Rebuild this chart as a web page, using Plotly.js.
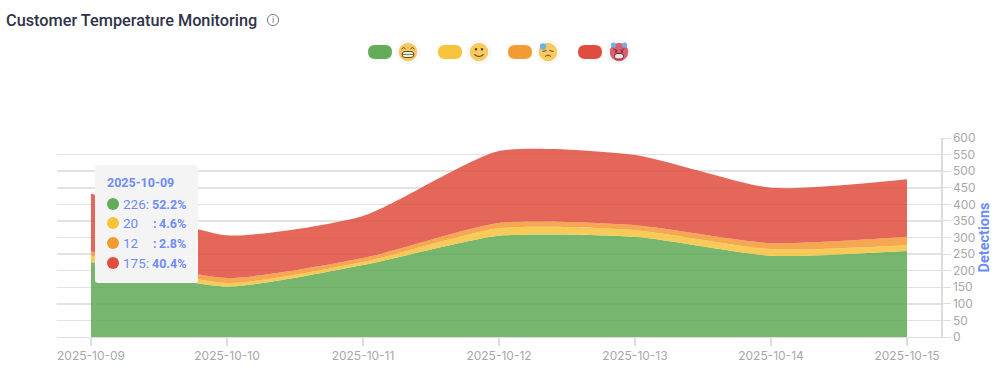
<!DOCTYPE html>
<html>
<head>
<meta charset="utf-8">
<script src="https://cdn.plot.ly/plotly-3.0.1.min.js"></script>
<style>html,body{margin:0;padding:0;background:#fff}#chart{width:1000px;height:379px}</style>
</head>
<body>
<div id="chart"></div>
<script>
const dates = ['2025-10-09','2025-10-10','2025-10-11','2025-10-12','2025-10-13','2025-10-14','2025-10-15'];
const green = [226,152,217,305,302,245,259];
const yellow = [20,11,9,23,20,20,18];
const orange = [12,15,12,16,15,18,25];
const red = [175,129,127,217,212,167,174];
const names = ['Very happy','Happy','Worried','Hot'];
const fills = ['rgba(92,168,82,0.84)','rgba(247,194,60,0.85)','rgba(243,152,50,0.85)','rgba(224,74,58,0.84)'];
const solid = ['#63ad5a','#f7c33c','#f39a33','#e04d3e'];
const tipCounts = ['226:','20','12','175:'];
const tipColons = ['',':',':',''];
const tipPercents = ['52.2%','4.6%','2.8%','40.4%'];
const L=57,T=138,W=884,H=199;
const px=x=>(x-L)/W, py=y=>(T+H-y)/H;
function rr(x0,y0,x1,y1,r){
  const X=px,Y=py;
  return `M${X(x0+r)},${Y(y0)} L${X(x1-r)},${Y(y0)} Q${X(x1)},${Y(y0)} ${X(x1)},${Y(y0+r)} L${X(x1)},${Y(y1-r)} Q${X(x1)},${Y(y1)} ${X(x1-r)},${Y(y1)} L${X(x0+r)},${Y(y1)} Q${X(x0)},${Y(y1)} ${X(x0)},${Y(y1-r)} L${X(x0)},${Y(y0+r)} Q${X(x0)},${Y(y0)} ${X(x0+r)},${Y(y0)} Z`;
}
const circ=(cx,cy,r,fill,line,lw)=>({type:'circle',xref:'paper',yref:'paper',x0:px(cx-r),x1:px(cx+r),y0:py(cy+r),y1:py(cy-r),fillcolor:fill,line:{color:line||fill,width:line?(lw||1):0},layer:'above'});
const pathS=(p,fill,lc,lw)=>({type:'path',xref:'paper',yref:'paper',path:p,fillcolor:fill||'rgba(0,0,0,0)',line:{color:lc||fill,width:lw===undefined?0:lw},layer:'above'});
const stroke=(pts,color,lw)=>{
  const p=pts.map(a=>a[0]+a.slice(1).map((v,i)=>i%2==0?px(v):py(v)).reduce((s,v,i)=>s+(i%2?','+v:(i?' ':'')+v),'')).join(' ');
  return pathS(p,null,color,lw);
};
const shapes=[], anns=[];
// tooltip
shapes.push(pathS(rr(95,165,198,283,3),'#f4f4f4'));
const rowY=[204,223,243,263];
solid.forEach((c,i)=>shapes.push(circ(113,rowY[i],6,c)));
const blue='#6f8cf6';
const txt=(x,y,t,size,color,anchor)=>({xref:'paper',yref:'paper',x:px(x),y:py(y),text:t,showarrow:false,xanchor:anchor||'left',yanchor:'middle',font:{family:'Roboto',size:size,color:color}});
anns.push(txt(105,182,'<b>2025-10-09</b>',12.5,blue));
tipCounts.forEach((r,i)=>{
  anns.push(txt(121,rowY[i],r,13.5,blue));
  if(tipColons[i]) anns.push(txt(150.5,rowY[i],'<b>'+tipColons[i]+'</b>',12.5,blue));
  anns.push(txt(188,rowY[i],'<b>'+tipPercents[i]+'</b>',12.5,blue,'right'));
});
// legend
const pillX=[368,438,508,578], faceX=[408,479,548,619];
const cy=52, dark='#5c4a26';
solid.forEach((c,i)=>{
  shapes.push(pathS(rr(pillX[i],45,pillX[i]+24,59,7),c));
  const cx=faceX[i];
  shapes.push(circ(cx,cy,11.3,'#ffffff','#ececec',0.8));
  shapes.push(circ(cx,cy,9.3,i===3?'#d9606e':'#f8c95e'));
  if(i===0){
    shapes.push(stroke([['M',cx-6.5,cy-3],['Q',cx-4.5,cy-6,cx-2.5,cy-3]],dark,1));
    shapes.push(stroke([['M',cx+2.5,cy-3],['Q',cx+4.5,cy-6,cx+6.5,cy-3]],dark,1));
    shapes.push(pathS(rr(cx-6,cy-0.5,cx+6,cy+5.5,3),'#f4ecdc',dark,1));
    shapes.push(stroke([['M',cx-6,cy+2.5],['L',cx+6,cy+2.5]],dark,0.7));
  } else if(i===1){
    shapes.push(circ(cx-3,cy-2.8,1.3,dark));
    shapes.push(circ(cx+3,cy-2.8,1.3,dark));
    shapes.push(stroke([['M',cx-4.5,cy+2.5],['Q',cx,cy+6.5,cx+4.5,cy+2.5]],dark,1.1));
  } else if(i===2){
    shapes.push(stroke([['M',cx-5.5,cy-0.5],['L',cx-1.5,cy-1.5]],dark,1));
    shapes.push(stroke([['M',cx+1.5,cy-1.5],['L',cx+5.5,cy-0.5]],dark,1));
    shapes.push(stroke([['M',cx-3,cy+4.5],['Q',cx,cy+1.5,cx+3,cy+4.5]],dark,1));
    shapes.push(circ(cx-5,cy-5.5,3.2,'#6fb0e6'));
  } else {
    shapes.push(circ(cx-5.5,cy-7,2.6,'#6fb0e6'));
    shapes.push(circ(cx+5.5,cy-7,2.6,'#6fb0e6'));
    shapes.push(stroke([['M',cx-5.5,cy-3],['L',cx-1.5,cy-1.5]],'#6d2a35',1));
    shapes.push(stroke([['M',cx+1.5,cy-1.5],['L',cx+5.5,cy-3]],'#6d2a35',1));
    shapes.push(circ(cx-3,cy-0.2,1,'#6d2a35'));
    shapes.push(circ(cx+3,cy-0.2,1,'#6d2a35'));
    shapes.push(pathS(rr(cx-4.5,cy+1.5,cx+4.5,cy+7,2.5),'#f5dfe0','#6d2a35',1));
  }
});
// info icon
shapes.push(circ(273,20,5.6,'#ffffff','#777b88',1));
anns.push(txt(273,20,'i',9,'#777b88','center'));
const series=[green,yellow,orange,red];
const traces=series.map((v,i)=>({x:dates,y:v,name:names[i],type:'scatter',mode:'lines',stackgroup:'one',line:{shape:'spline',smoothing:0.6,width:0,color:solid[i]},fillcolor:fills[i],hoverinfo:'skip'}));
Plotly.newPlot('chart',traces,{
  width:1000,height:379,paper_bgcolor:'#fff',plot_bgcolor:'#fff',showlegend:false,
  margin:{l:L,r:1000-L-W,t:T,b:379-T-H,pad:0},
  title:{text:'Customer Temperature Monitoring',x:6/1000,xanchor:'left',y:1-20/379,yanchor:'middle',font:{family:'Roboto',size:16.3,color:'#2f3349',weight:500}},
  xaxis:{type:'category',range:[-0.25,6.25],tickmode:'array',tickvals:dates,ticktext:dates,showgrid:false,ticks:'outside',ticklen:8,tickcolor:'#dddddd',tickwidth:2,zeroline:false,showline:true,linecolor:'#dddddd',linewidth:1,tickfont:{family:'Inter',size:12,color:'#a8a8a8'}},
  yaxis:{side:'right',range:[0,600],dtick:50,showgrid:true,gridcolor:'#e2e2e2',gridwidth:1.5,ticks:'outside',ticklen:8,tickcolor:'#dddddd',tickwidth:1,showline:true,linecolor:'#dddddd',linewidth:1.5,zeroline:false,tickfont:{family:'Inter',size:12,color:'#a8a8a8'},title:{text:'Detections',standoff:1,font:{family:'Roboto',size:14.5,color:blue,weight:700}}},
  shapes:shapes,annotations:anns
},{displayModeBar:false,staticPlot:true});
</script>
</body>
</html>
